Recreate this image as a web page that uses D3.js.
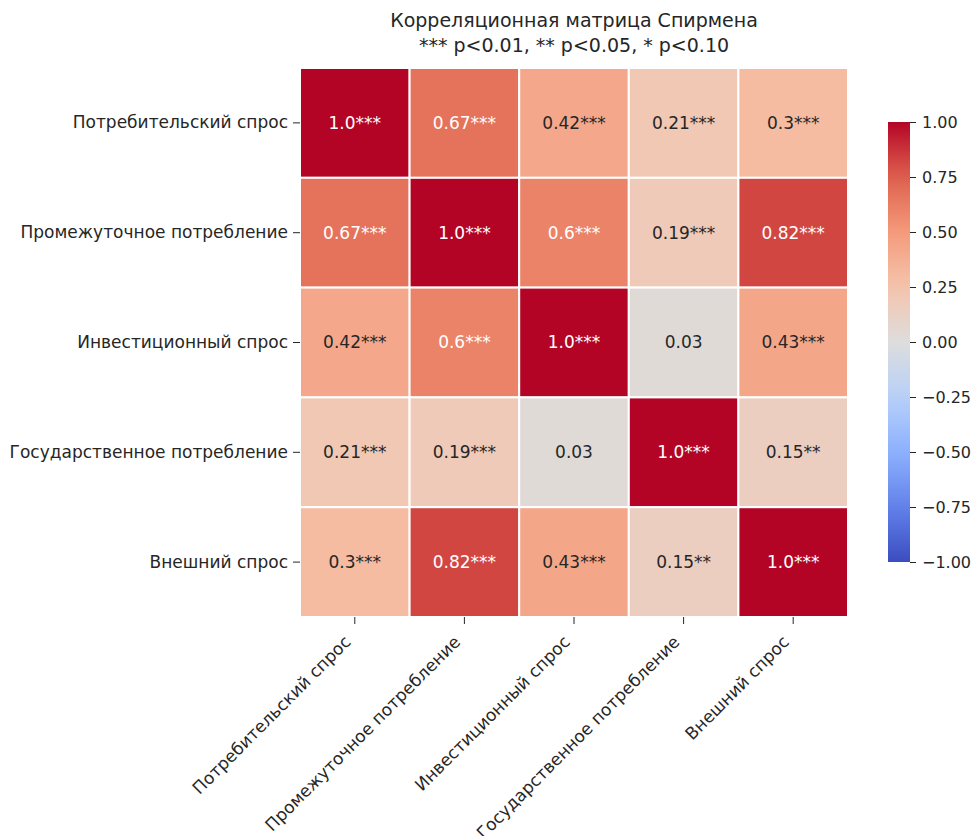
<!DOCTYPE html>
<html>
<head>
<meta charset="utf-8">
<script src="https://cdn.jsdelivr.net/npm/d3@7"></script>
<style>
  body { margin: 0; background: #fff; }
  text { font-family: "DejaVu Sans", sans-serif; fill: #262626; }
</style>
</head>
<body>
<div id="chart"></div>
<script>
var categories = [
    'Потребительский спрос',
    'Промежуточное потребление',
    'Инвестиционный спрос',
    'Государственное потребление',
    'Внешний спрос'
];

var values = [
    [1.0, 0.67, 0.42, 0.21, 0.3],
    [0.67, 1.0, 0.6, 0.19, 0.82],
    [0.42, 0.6, 1.0, 0.03, 0.43],
    [0.21, 0.19, 0.03, 1.0, 0.15],
    [0.3, 0.82, 0.43, 0.15, 1.0]
];

var stars = [
    ['***', '***', '***', '***', '***'],
    ['***', '***', '***', '***', '***'],
    ['***', '***', '***', '', '***'],
    ['***', '***', '', '***', '**'],
    ['***', '***', '***', '**', '***']
];

var colorbarTicks = [1.0, 0.75, 0.5, 0.25, 0.0, -0.25, -0.5, -0.75, -1.0];

var titleLines = ['Корреляционная матрица Спирмена', '*** p<0.01, ** p<0.05, * p<0.10'];

// coolwarm control points
var coolwarm = d3.scaleLinear()
    .domain([-1, -0.75, -0.5, -0.25, 0, 0.25, 0.5, 0.75, 1])
    .range(['#3b4cc0', '#6282ea', '#8db0fe', '#b8d0f9', '#dddddd', '#f5c4ac', '#f49a7b', '#de604d', '#b40426'])
    .interpolate(d3.interpolateRgb)
    .clamp(true);

function fmt(v) {
    return Number.isInteger(v) ? v.toFixed(1) : String(v);
}

function textColor(c) {
    var rgb = d3.rgb(c);
    var lin = [rgb.r, rgb.g, rgb.b].map(function (x) {
        x = x / 255;
        return x <= 0.03928 ? x / 12.92 : Math.pow((x + 0.055) / 1.055, 2.4);
    });
    var lum = 0.2126 * lin[0] + 0.7152 * lin[1] + 0.0722 * lin[2];
    return lum > 0.408 ? '#262626' : '#ffffff';
}

var width = 976, height = 836;
var mLeft = 300, mRight = 848, mTop = 68, mBottom = 617;

var svg = d3.select('#chart').append('svg')
    .attr('width', width)
    .attr('height', height);

var x = d3.scaleBand().domain(categories).range([mLeft, mRight]);
var y = d3.scaleBand().domain(categories).range([mTop, mBottom]);

var cells = [];
values.forEach(function (row, i) {
    row.forEach(function (v, j) {
        cells.push({ row: categories[i], col: categories[j], value: v, label: fmt(v) + stars[i][j] });
    });
});

var cell = svg.append('g').selectAll('g')
    .data(cells)
    .enter()
    .append('g');

cell.append('rect')
    .attr('x', function (d) { return x(d.col); })
    .attr('y', function (d) { return y(d.row); })
    .attr('width', x.bandwidth())
    .attr('height', y.bandwidth())
    .attr('fill', function (d) { return coolwarm(d.value); })
    .attr('stroke', '#fff')
    .attr('stroke-width', 2);

cell.append('text')
    .attr('x', function (d) { return x(d.col) + x.bandwidth() / 2; })
    .attr('y', function (d) { return y(d.row) + y.bandwidth() / 2; })
    .attr('dy', '.35em')
    .attr('text-anchor', 'middle')
    .style('font-size', '17px')
    .style('fill', function (d) { return textColor(coolwarm(d.value)); })
    .text(function (d) { return d.label; });

// y axis
var yAxis = svg.append('g')
    .attr('transform', 'translate(' + mLeft + ',0)')
    .call(d3.axisLeft(y).tickSize(7).tickPadding(5));
yAxis.select('.domain').remove();
yAxis.selectAll('line').attr('stroke', '#262626');
yAxis.selectAll('text').style('font-size', '17px').style('fill', '#262626');

// x axis
var xAxis = svg.append('g')
    .attr('transform', 'translate(0,' + mBottom + ')')
    .call(d3.axisBottom(x).tickSize(7).tickPadding(4));
xAxis.select('.domain').remove();
xAxis.selectAll('line').attr('stroke', '#262626');
xAxis.selectAll('text')
    .style('font-size', '17px')
    .style('fill', '#262626')
    .attr('text-anchor', 'end')
    .attr('x', 0)
    .attr('y', 0)
    .attr('dy', 0)
    .attr('transform', 'translate(-3,26) rotate(-45)');

// title
svg.append('g').selectAll('text')
    .data(titleLines)
    .enter()
    .append('text')
    .attr('x', (mLeft + mRight) / 2)
    .attr('y', function (d, i) { return 27 + i * 25; })
    .attr('text-anchor', 'middle')
    .style('font-size', '19px')
    .text(function (d) { return d; });

// colorbar
var cbX = 888, cbW = 22, cbTop = 122, cbBottom = 562;
var cbScale = d3.scaleLinear().domain([-1, 1]).range([cbBottom, cbTop]);

var defs = svg.append('defs');
var grad = defs.append('linearGradient')
    .attr('id', 'cbgrad')
    .attr('x1', 0).attr('y1', 1).attr('x2', 0).attr('y2', 0);
d3.range(0, 1.0001, 0.05).forEach(function (t) {
    grad.append('stop')
        .attr('offset', t)
        .attr('stop-color', coolwarm(-1 + 2 * t));
});

svg.append('rect')
    .attr('x', cbX)
    .attr('y', cbTop)
    .attr('width', cbW)
    .attr('height', cbBottom - cbTop)
    .attr('fill', 'url(#cbgrad)');

var cbAxis = svg.append('g')
    .attr('transform', 'translate(' + (cbX + cbW) + ',0)')
    .call(d3.axisRight(cbScale).tickValues(colorbarTicks).tickSize(6).tickPadding(6)
        .tickFormat(function (d) { return d3.format('.2f')(d).replace('-', '\u2212'); }));
cbAxis.select('.domain').remove();
cbAxis.selectAll('line').attr('stroke', '#262626');
cbAxis.selectAll('text').style('font-size', '16px').style('fill', '#262626');
</script>
</body>
</html>
